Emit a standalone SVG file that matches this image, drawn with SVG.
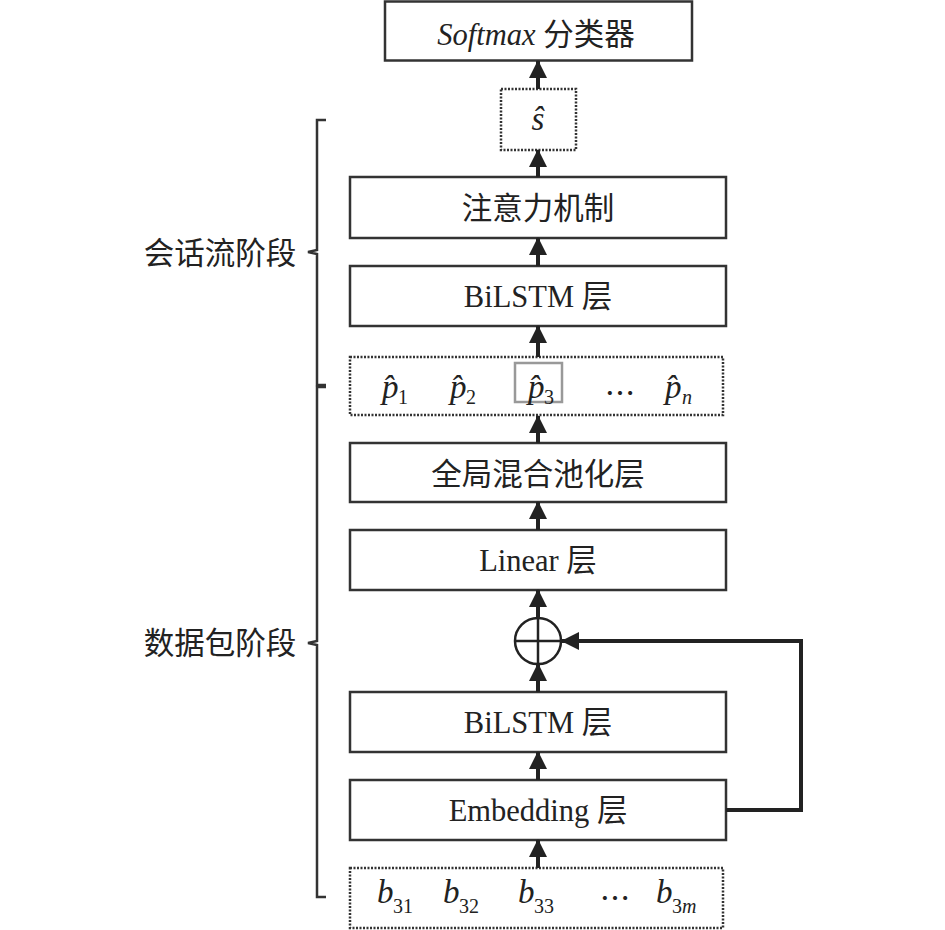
<svg xmlns="http://www.w3.org/2000/svg" width="945" height="930" viewBox="0 0 945 930">
<style>
.box{fill:#fff;stroke:#333;stroke-width:2.5}
.dot{fill:#fff;stroke:#333;stroke-width:2.5;stroke-dasharray:2 1.5}
.t{font-family:"Liberation Serif","Noto Sans CJK SC",serif;font-size:30.5px;fill:#222;text-anchor:middle}
.i{font-family:"Liberation Serif",serif;font-style:italic;font-size:33px;fill:#222}
.sub{font-family:"Liberation Serif",serif;font-size:20px;fill:#222}
.subi{font-family:"Liberation Serif",serif;font-style:italic;font-size:20px;fill:#222}
.lbl{font-family:"Noto Sans CJK SC",sans-serif;font-size:30.5px;fill:#222;text-anchor:middle}
.ln{fill:none;stroke:#222;stroke-width:4}
.br{fill:none;stroke:#333;stroke-width:2.5}
</style>
<defs>
<marker id="ah" markerUnits="userSpaceOnUse" markerWidth="18" markerHeight="18" viewBox="0 0 18 18" refX="17" refY="9" orient="auto">
<path d="M0,0 L18,9 L0,18 Z" fill="#222"/>
</marker>
</defs>

<g id="softmax"><rect class="box" x="385" y="1.5" width="307" height="59"/>
<text class="t" x="536" y="45"><tspan font-style="italic">Softmax</tspan> <tspan font-family="Noto Sans CJK SC,sans-serif">分类器</tspan></text></g>

<g id="s_hat"><rect class="dot" x="501" y="89" width="75" height="61"/>
<text class="i" x="538" y="130" text-anchor="middle">ŝ</text></g>

<g id="attention"><rect class="box" x="350" y="177" width="376" height="61"/>
<text class="t" x="538" y="219" font-family="Noto Sans CJK SC,sans-serif">注意力机制</text></g>

<g id="bilstm_top"><rect class="box" x="350" y="266" width="376" height="60"/>
<text class="t" x="538" y="307">BiLSTM <tspan font-family="Noto Sans CJK SC,sans-serif">层</tspan></text></g>

<g id="p_vec"><rect class="dot" x="350" y="357" width="373" height="58"/>
<rect x="515" y="363" width="47" height="39" fill="none" stroke="#999" stroke-width="2.5"/>
<text class="i" x="382" y="398">p̂</text><text class="sub" x="398" y="404">1</text>
<text class="i" x="450" y="398">p̂</text><text class="sub" x="466" y="404">2</text>
<text class="i" x="528" y="398">p̂</text><text class="sub" x="544" y="404">3</text>
<text class="t" x="620" y="404">⋯</text>
<text class="i" x="665" y="398">p̂</text><text class="subi" x="682" y="404">n</text></g>

<g id="pooling"><rect class="box" x="350" y="443" width="376" height="59"/>
<text class="t" x="538" y="485" font-family="Noto Sans CJK SC,sans-serif">全局混合池化层</text></g>

<g id="linear"><rect class="box" x="350" y="530" width="376" height="60"/>
<text class="t" x="538" y="571">Linear <tspan font-family="Noto Sans CJK SC,sans-serif">层</tspan></text></g>

<g id="add"><circle cx="538" cy="641" r="23" fill="#fff" stroke="#222" stroke-width="2.5"/>
<line x1="515" y1="641" x2="561" y2="641" stroke="#222" stroke-width="2.5"/>
<line x1="538" y1="618" x2="538" y2="664" stroke="#222" stroke-width="2.5"/></g>

<g id="bilstm_bot"><rect class="box" x="350" y="692" width="376" height="60"/>
<text class="t" x="538" y="733">BiLSTM <tspan font-family="Noto Sans CJK SC,sans-serif">层</tspan></text></g>

<g id="embedding"><rect class="box" x="350" y="780" width="376" height="60"/>
<text class="t" x="538" y="821">Embedding <tspan font-family="Noto Sans CJK SC,sans-serif">层</tspan></text></g>

<g id="b_vec"><rect class="dot" x="350" y="868" width="373" height="60"/>
<text class="i" x="377" y="903">b</text><text class="sub" x="393" y="913">31</text>
<text class="i" x="443" y="903">b</text><text class="sub" x="459" y="913">32</text>
<text class="i" x="518" y="903">b</text><text class="sub" x="534" y="913">33</text>
<text class="t" x="615" y="909">⋯</text>
<text class="i" x="656" y="903">b</text><text class="sub" x="672" y="913">3<tspan font-style="italic">m</tspan></text></g>

<g id="stage_session"><path class="br" d="M326,120 L317,120 L317,250 L308,252 L317,254 L317,385 L326,385"/>
<text class="lbl" x="220" y="264">会话流阶段</text></g>
<g id="stage_packet"><path class="br" d="M326,387 L317,387 L317,641 L308,643 L317,645 L317,897 L326,897"/>
<text class="lbl" x="220" y="654">数据包阶段</text></g>

<g id="connectors">
<line class="ln" x1="538" y1="89" x2="538" y2="61" marker-end="url(#ah)"/>
<line class="ln" x1="538" y1="177" x2="538" y2="150" marker-end="url(#ah)"/>
<line class="ln" x1="538" y1="266" x2="538" y2="238" marker-end="url(#ah)"/>
<line class="ln" x1="538" y1="357" x2="538" y2="326" marker-end="url(#ah)"/>
<line class="ln" x1="538" y1="443" x2="538" y2="416" marker-end="url(#ah)"/>
<line class="ln" x1="538" y1="530" x2="538" y2="502" marker-end="url(#ah)"/>
<line class="ln" x1="538" y1="618" x2="538" y2="590" marker-end="url(#ah)"/>
<line class="ln" x1="538" y1="692" x2="538" y2="664" marker-end="url(#ah)"/>
<line class="ln" x1="538" y1="780" x2="538" y2="752" marker-end="url(#ah)"/>
<line class="ln" x1="538" y1="868" x2="538" y2="840" marker-end="url(#ah)"/>
<polyline class="ln" points="726,810 801,810 801,641 562,641" marker-end="url(#ah)"/>
</g>
</svg>
